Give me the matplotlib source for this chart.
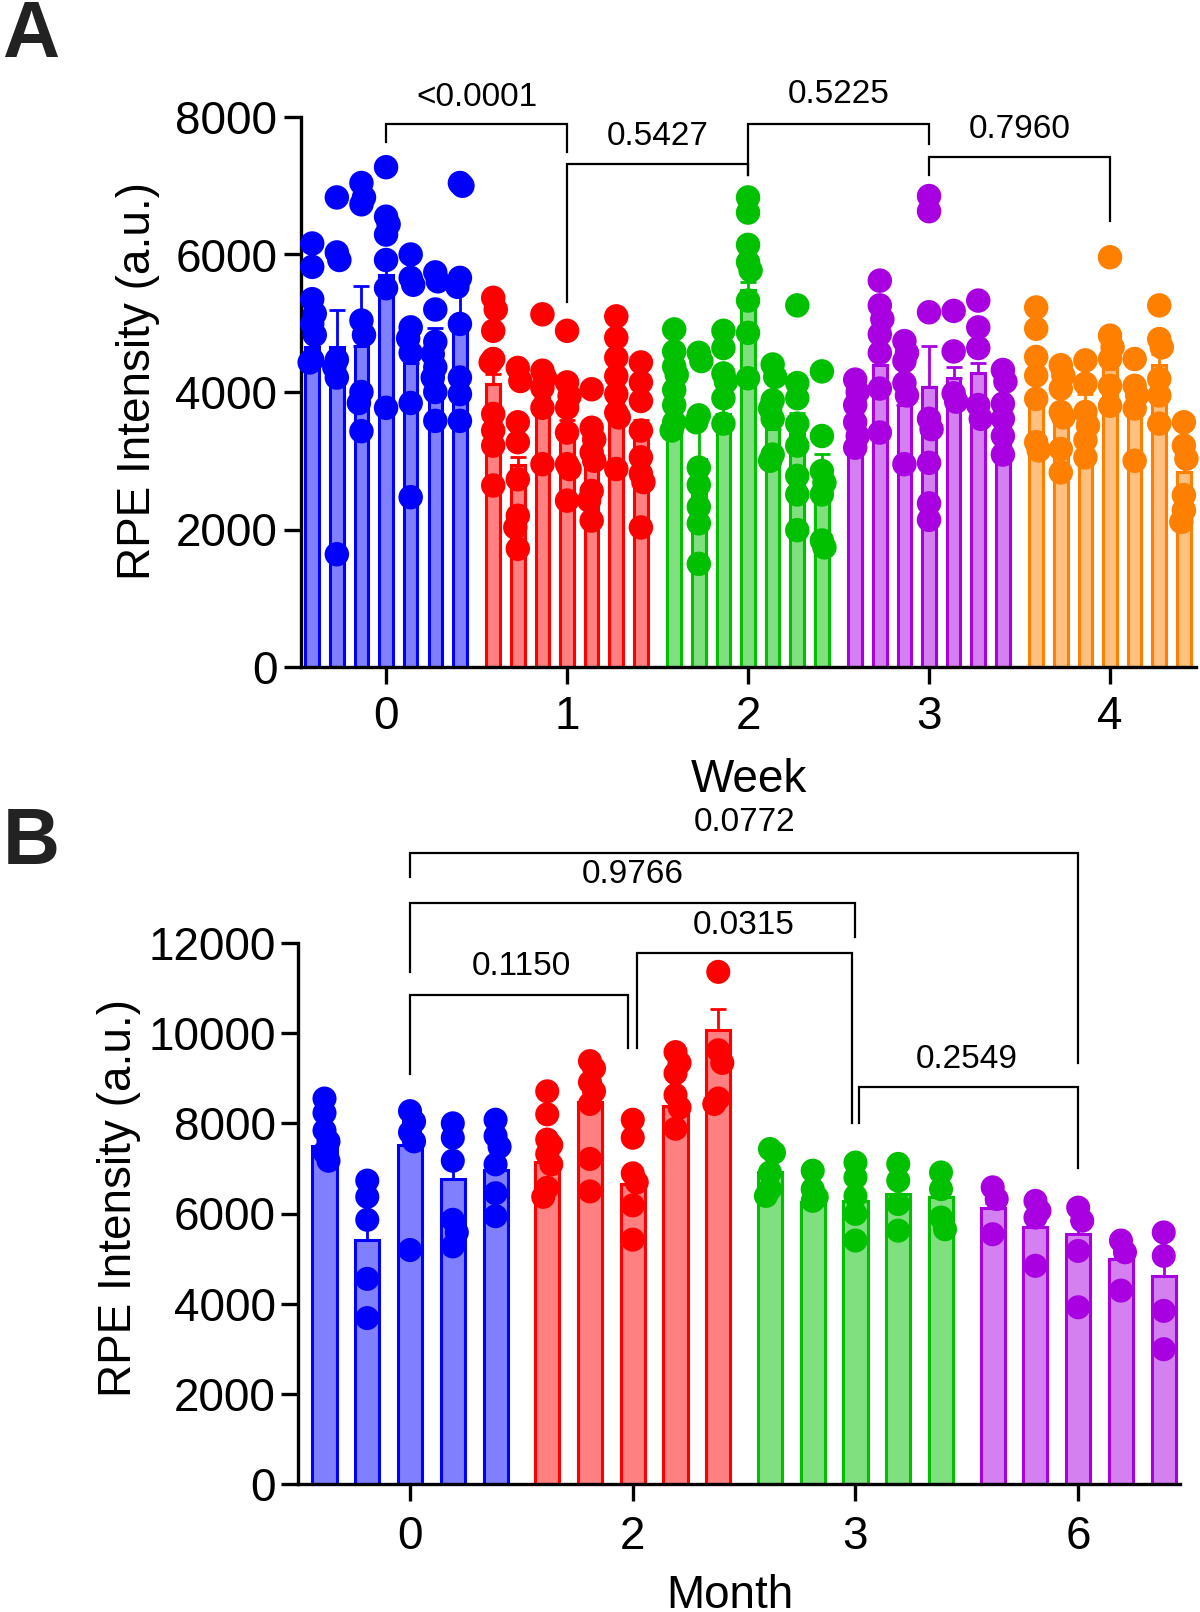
import matplotlib
matplotlib.use('Agg')
import matplotlib.pyplot as plt
import numpy as np

plt.rcParams['font.family'] = ['Liberation Sans', 'DejaVu Sans']

# ---------------- data ----------------
week_labels = ['0', '1', '2', '3', '4']
month_labels = ['0', '2', '3', '6']

# Panel A (weekly), 7 eyes per week
a_w0_mean = [4650, 4650, 4675, 5700, 4420, 4780, 5090]
a_w0_sem = [120, 545, 860, 150, 160, 150, 440]
a_w0_pts = [
    [6160, 5820, 5350, 5140, 4990, 4830, 4470, 4430],
    [6830, 6030, 5920, 4470, 4360, 4210, 1640],
    [7040, 6830, 6730, 5040, 4830, 4000, 3840, 3430],
    [7270, 6550, 6440, 6290, 5920, 5510, 3770],
    [6000, 5660, 5560, 4940, 4780, 4570, 3840, 2470],
    [5740, 5610, 5200, 4730, 4550, 4360, 4210, 4000, 3580],
    [7040, 7000, 5660, 5530, 4990, 4210, 3970, 3580],
]
a_w1_mean = [4110, 2940, 3920, 3400, 2950, 4000, 3400]
a_w1_sem = [150, 110, 100, 200, 160, 200, 200]
a_w1_pts = [
    [5370, 5200, 4890, 4480, 4430, 3680, 3440, 3220, 2640],
    [4350, 4160, 3560, 3270, 2730, 2200, 2030, 1720],
    [5130, 4310, 4210, 4060, 3770, 2950],
    [4890, 4140, 3940, 3770, 3410, 2950, 2880, 2420],
    [4040, 3480, 3310, 3120, 3000, 2560, 2420, 2130],
    [5100, 4790, 4500, 4230, 3970, 3700, 3630, 2880],
    [4430, 4140, 3870, 3440, 3050, 2810, 2690, 2030],
]
a_w2_mean = [3410, 3020, 3680, 5480, 3460, 3400, 2850]
a_w2_sem = [150, 590, 120, 120, 200, 300, 250]
a_w2_pts = [
    [4910, 4590, 4370, 4250, 4030, 3810, 3560, 3440],
    [4570, 4450, 3660, 3560, 2900, 2650, 2330, 2090, 1500],
    [4890, 4640, 4270, 4150, 3910, 3540],
    [6830, 6610, 6140, 5890, 5770, 5330, 4860, 4200],
    [4400, 4220, 3880, 3760, 3610, 3090, 3000],
    [5260, 4130, 3910, 3540, 3220, 2780, 2510, 1990],
    [4300, 3360, 2850, 2680, 2510, 1840, 1740],
]
a_w3_mean = [3680, 4400, 3810, 4080, 4200, 4270, 3700]
a_w3_sem = [150, 200, 200, 590, 170, 150, 150]
a_w3_pts = [
    [4180, 4000, 3810, 3560, 3360, 3190],
    [5620, 5260, 5060, 4840, 4570, 4050, 3410],
    [4740, 4570, 4450, 4130, 3950, 2950],
    [6850, 6630, 5160, 3610, 3460, 2970, 2380, 2140],
    [5180, 4590, 3980, 3860],
    [5330, 4940, 4640, 3810, 3610],
    [4320, 4150, 3830, 3610, 3360, 3090],
]
a_w4_mean = [4000, 3550, 3800, 4340, 3660, 4390, 2830]
a_w4_sem = [170, 150, 170, 130, 150, 170, 150]
a_w4_pts = [
    [5230, 4920, 4510, 4240, 3900, 3270, 3150],
    [4390, 4240, 4050, 3710, 3630, 3170, 2830],
    [4460, 4120, 3710, 3510, 3300, 3050],
    [5960, 4820, 4650, 4480, 4090, 3800],
    [4480, 4090, 3950, 3760, 3000],
    [5260, 4770, 4650, 4190, 3950, 3540],
    [3560, 3220, 3030, 2500, 2280, 2110],
]

# Panel B (monthly), 5 eyes per month
b_m0_mean = [7500, 5420, 7520, 6770, 6970]
b_m0_sem = [200, 400, 130, 250, 150]
b_m0_pts = [
    [8550, 8230, 7840, 7600, 7360, 7170],
    [6730, 6370, 5860, 4550, 3680],
    [8270, 8040, 7800, 7600, 5190],
    [8000, 7680, 7170, 5860, 5580, 5270],
    [8080, 7720, 7480, 7090, 6450, 5940],
]
b_m2_mean = [7150, 8470, 6650, 8390, 10060]
b_m2_sem = [200, 300, 250, 200, 475]
b_m2_pts = [
    [8710, 8200, 7640, 7520, 7320, 7090, 6570, 6370],
    [9380, 9220, 8910, 8710, 8430, 7210, 6490],
    [8080, 7680, 6890, 6690, 6180, 5420],
    [9580, 9340, 9110, 8630, 8350, 7880],
    [11360, 9620, 9340, 8550, 8430],
]
b_m3_mean = [6910, 6250, 6280, 6430, 6360]
b_m3_sem = [150, 100, 200, 200, 200]
b_m3_pts = [
    [7430, 7350, 6910, 6540, 6390],
    [6950, 6540, 6360, 6280],
    [7130, 6800, 6390, 5990, 5400],
    [7100, 6730, 6210, 5620],
    [6910, 6540, 5910, 5650],
]
b_m6_mean = [6130, 5690, 5540, 4990, 4620]
b_m6_sem = [100, 200, 300, 150, 400]
b_m6_pts = [
    [6580, 6320, 5540],
    [6280, 6060, 5910, 4840],
    [6130, 5840, 5170, 3920],
    [5400, 5140, 4290],
    [5580, 5060, 3840, 2990],
]

# significance annotations: (group1, group2, label)
a_pvals = [(0, 1, '<0.0001'), (1, 2, '0.5427'), (2, 3, '0.5225'), (3, 4, '0.7960')]
b_pvals = [(0, 3, '0.0772'), (0, 2, '0.9766'), (1, 2, '0.0315'), (0, 1, '0.1150'), (2, 3, '0.2549')]

# ---------------- styling ----------------
edge_cols = ['#0000FF', '#FF0000', '#00C000', '#A800E0', '#FF8000']
fill_cols = ['#8080FF', '#FF8080', '#80E080', '#D580F0', '#FFC080']

# bracket geometry (y of bar, y-end of left leg, y-end of right leg, y of text)
a_brk_geom = [(7895, 7640, 7490, 8284), (7312, 5305, 7150, 7716),
              (7895, 7150, 7611, 8329), (7417, 7150, 6490, 7821)]
b_brk_geom = [(14003, 13456, 9335, 14663, 0.0, 0.0), (12887, 11361, 12136, 13524, 0.0, 0.0),
              (11771, 9677, 8015, 12386, 0.02, -0.015), (10838, 9085, 9677, 11475, 0.0, -0.02),
              (8811, 8015, 7013, 9426, 0.015, 0.0)]

fig = plt.figure(figsize=(12, 16.12), dpi=100)

axA = fig.add_axes([301 / 1200, 1 - 667 / 1612, (1196 - 301) / 1200, (667 - 117) / 1612])
axB = fig.add_axes([298 / 1200, 1 - 1484 / 1612, (1180 - 298) / 1200, (1484 - 943) / 1612])


def spread(vals, thresh, step):
    offs = np.zeros(len(vals))
    order = np.argsort(vals)[::-1]
    prev = None
    sign = 1
    for k in order:
        if prev is not None and abs(vals[prev] - vals[k]) < thresh:
            offs[k] = sign * step if offs[prev] == 0 else 0
            sign = -sign
        prev = k
    return offs


def draw_groups(ax, means, sems, pts, spacing, width, thresh, step, msize):
    for g, (m, s, p) in enumerate(zip(means, sems, pts)):
        n = len(m)
        xs = g + (np.arange(n) - (n - 1) / 2) * spacing
        ax.bar(xs, m, width=width, color=fill_cols[g], edgecolor=edge_cols[g],
               linewidth=2.2, zorder=2)
        ax.errorbar(xs, m, yerr=[np.zeros(n), s], fmt='none', ecolor=edge_cols[g],
                    elinewidth=2.0, capsize=6, capthick=2.0, zorder=2.5)
        for x, vals in zip(xs, p):
            vals = np.array(vals, dtype=float)
            offs = spread(vals, thresh, step)
            ax.scatter(x + offs, vals, s=msize, color=edge_cols[g], edgecolors='none',
                       zorder=3, clip_on=False)


def style_axis(ax, ylim, yticks, xticks, xlabels, xlim, xpad, ypad):
    ax.set_ylim(*ylim)
    ax.set_xlim(*xlim)
    ax.set_yticks(yticks)
    ax.set_yticklabels([str(t) for t in yticks])
    ax.set_xticks(xticks)
    ax.set_xticklabels(xlabels)
    for sp in ['top', 'right']:
        ax.spines[sp].set_visible(False)
    for sp in ['left', 'bottom']:
        ax.spines[sp].set_linewidth(2.4)
    ax.tick_params(axis='both', length=12, width=2.4, labelsize=33, direction='out')
    ax.tick_params(axis='x', pad=xpad)
    ax.tick_params(axis='y', pad=ypad)


# ---------------- panel A ----------------
draw_groups(axA, [a_w0_mean, a_w1_mean, a_w2_mean, a_w3_mean, a_w4_mean],
            [a_w0_sem, a_w1_sem, a_w2_sem, a_w3_sem, a_w4_sem],
            [a_w0_pts, a_w1_pts, a_w2_pts, a_w3_pts, a_w4_pts],
            spacing=0.136, width=0.075, thresh=220, step=0.014, msize=310)
style_axis(axA, (0, 8000), [0, 2000, 4000, 6000, 8000], range(5), week_labels,
           (-0.47, 4.475), xpad=8.5, ypad=5)
axA.set_xlabel('Week', fontsize=33)
axA.xaxis.set_label_coords(0.5, -0.166)
axA.set_ylabel('RPE Intensity (a.u.)', fontsize=33)
axA.yaxis.set_label_coords(-0.157, 0.52)

for (g1, g2, lab), (yh, yl, yr, yt) in zip(a_pvals, a_brk_geom):
    axA.plot([g1, g1, g2, g2], [yl, yh, yh, yr], color='black', lw=1.6,
             clip_on=False, zorder=4, solid_joinstyle='miter')
    axA.text((g1 + g2) / 2, yt, lab, ha='center', va='center', fontsize=24, clip_on=False)

# ---------------- panel B ----------------
draw_groups(axB, [b_m0_mean, b_m2_mean, b_m3_mean, b_m6_mean],
            [b_m0_sem, b_m2_sem, b_m3_sem, b_m6_sem],
            [b_m0_pts, b_m2_pts, b_m3_pts, b_m6_pts],
            spacing=0.192, width=0.108, thresh=320, step=0.018, msize=300)
style_axis(axB, (0, 12000), list(range(0, 12001, 2000)), range(4), month_labels,
           (-0.503, 3.457), xpad=10, ypad=4)
axB.set_xlabel('Month', fontsize=33)
axB.xaxis.set_label_coords(0.49, -0.166)
axB.set_ylabel('RPE Intensity (a.u.)', fontsize=33)
axB.yaxis.set_label_coords(-0.178, 0.529)

for (g1, g2, lab), (yh, yl, yr, yt, dl, dr) in zip(b_pvals, b_brk_geom):
    x1, x2 = g1 + dl, g2 + dr
    axB.plot([x1, x1, x2, x2], [yl, yh, yh, yr], color='black', lw=1.6,
             clip_on=False, zorder=4, solid_joinstyle='miter')
    axB.text((g1 + g2) / 2, yt, lab, ha='center', va='center', fontsize=24, clip_on=False)

# panel letters
fig.text(0.002, 1 - 57 / 1612, 'A', fontsize=57, fontweight='bold', color='#222222',
         ha='left', va='baseline')
fig.text(0.002, 1 - 864 / 1612, 'B', fontsize=57, fontweight='bold', color='#222222',
         ha='left', va='baseline')

fig.savefig('out.png', dpi=100)
